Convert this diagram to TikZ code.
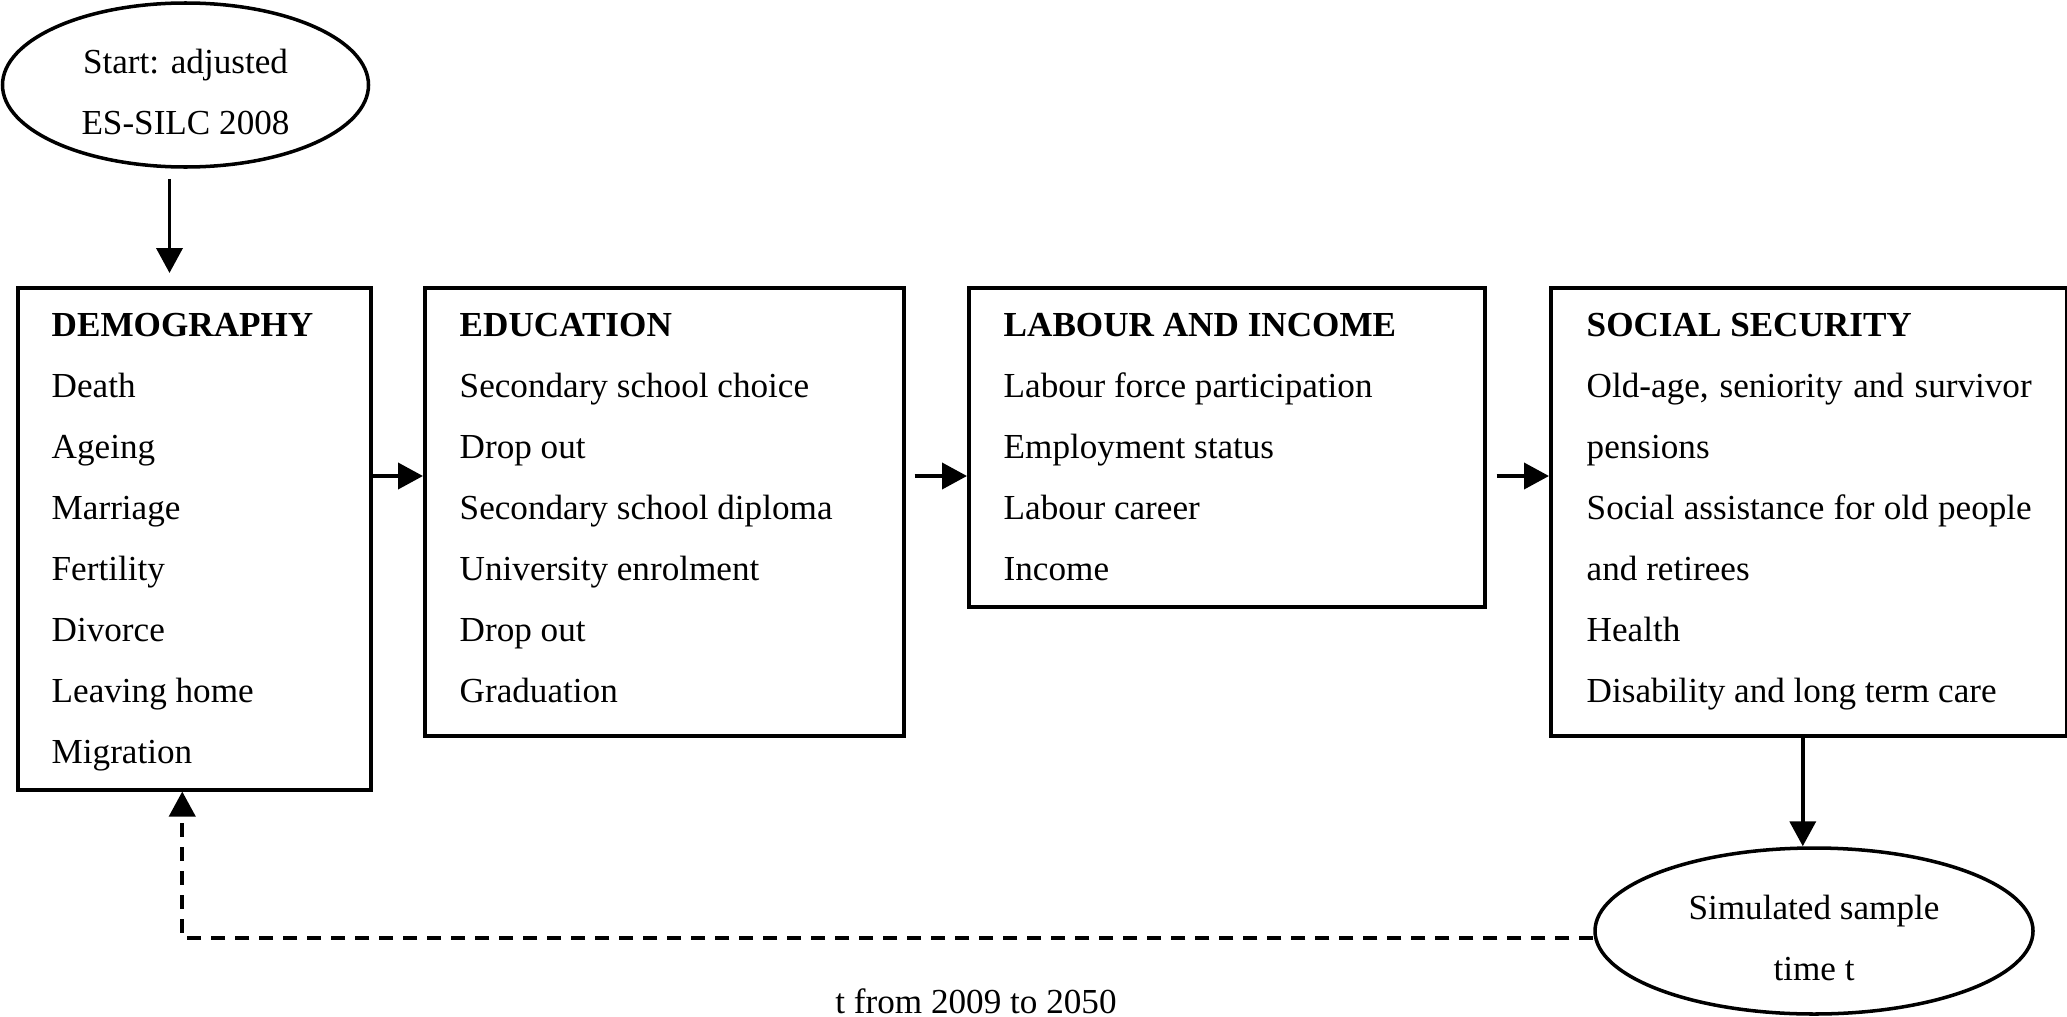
\documentclass[tikz,border=0pt]{standalone}
\usepackage{fontspec}
\setmainfont{Liberation Serif}
\usetikzlibrary{arrows.meta,positioning,calc,shapes.geometric}
\tikzset{
  blk/.style={draw, line width=1pt, rectangle, inner sep=0pt, anchor=north west},
  oval/.style={draw, line width=1pt, ellipse, inner sep=0pt},
  ovaltxt/.style={align=center, inner sep=0pt},
  item/.style={anchor=base west, inner sep=0pt},
  head/.style={item, font=\bfseries},
  arr/.style={-{Triangle[length=2.5mm, width=2.6mm]}, line width=1.1pt},
}
\newcommand{\spread}[1]{\makebox[4.45cm][s]{#1}}

\begin{document}
\begin{tikzpicture}[font=\fontsize{10pt}{17.4pt}\selectfont]
\useasboundingbox (0,0) rectangle (20.67,-10.16);
% input and output samples
\node[oval, minimum width=3.66cm, minimum height=1.64cm] (start) at (1.855,-0.85) {};
\node[ovaltxt] (start-t) at ([yshift=-0.07cm]start.center) {Start: adjusted\\ES-SILC 2008};
\node[oval, minimum width=4.38cm, minimum height=1.66cm] (sim) at (18.14,-9.31) {};
\node[ovaltxt] (sim-t) at ([yshift=-0.07cm]sim.center) {Simulated sample\\time t};
% the four modules
\node[blk, minimum width=3.53cm, minimum height=5.02cm] (demo) at (0.16,-2.86) {};
\node[blk, minimum width=4.79cm, minimum height=4.48cm] (edu) at (4.23,-2.86) {};
\node[blk, minimum width=5.16cm, minimum height=3.19cm] (lab) at (9.67,-2.86) {};
\node[blk, minimum width=5.16cm, minimum height=4.48cm] (soc) at (15.49,-2.86) {};
\node[head] (demo-h) at ($(demo.north west)+(0.35,-0.5)$) {DEMOGRAPHY};
\node[head] (edu-h) at ($(edu.north west)+(0.36,-0.5)$) {EDUCATION};
\node[head] (lab-h) at ($(lab.north west)+(0.36,-0.5)$) {LABOUR AND INCOME};
\node[head] (soc-h) at ($(soc.north west)+(0.37,-0.5)$) {SOCIAL SECURITY};
\foreach \t [count=\i] in {Death,Ageing,Marriage,Fertility,Divorce,Leaving home,Migration}
  \node[item] (demo-\i) at ($(demo-h.base west)+(0,{-0.61*\i})$) {\t};
\foreach \t [count=\i] in {Secondary school choice,Drop out,Secondary school diploma,University enrolment,Drop out,Graduation}
  \node[item] (edu-\i) at ($(edu-h.base west)+(0,{-0.61*\i})$) {\t};
\foreach \t [count=\i] in {Labour force participation,Employment status,Labour career,Income}
  \node[item] (lab-\i) at ($(lab-h.base west)+(0,{-0.61*\i})$) {\t};
\foreach \t [count=\i] in {{\spread{Old-age, seniority and survivor}},pensions,{\spread{Social assistance for old people}},and retirees,Health,Disability and long term care}
  \node[item] (soc-\i) at ($(soc-h.base west)+(0,{-0.61*\i})$) {\t};
% flow
\draw[arr, shorten <=0.1cm, shorten >=0.13cm] ([xshift=-0.16cm]start.south) -- ([xshift=-0.16cm]start.south |- demo.north);
\draw[arr] ([yshift=-1.9cm]demo.north east) -- ([yshift=-1.9cm]edu.north west);
\draw[arr, shorten <=0.09cm] ([yshift=-1.9cm]edu.north east) -- ([yshift=-1.9cm]lab.north west);
\draw[arr, shorten <=0.1cm] ([yshift=-1.9cm]lab.north east) -- ([yshift=-1.9cm]soc.north west);
\draw[arr] ([xshift=-0.06cm]soc.south) -- ([xshift=-0.06cm]soc.south |- sim.north);
\draw[arr, dash pattern=on 0.14cm off 0.1cm] ([yshift=-0.07cm]sim.west) -| ([xshift=-0.12cm]demo.south);
\node[anchor=base] (span) at (9.76,-10.13) {t from 2009 to 2050};
\end{tikzpicture}
\end{document}
